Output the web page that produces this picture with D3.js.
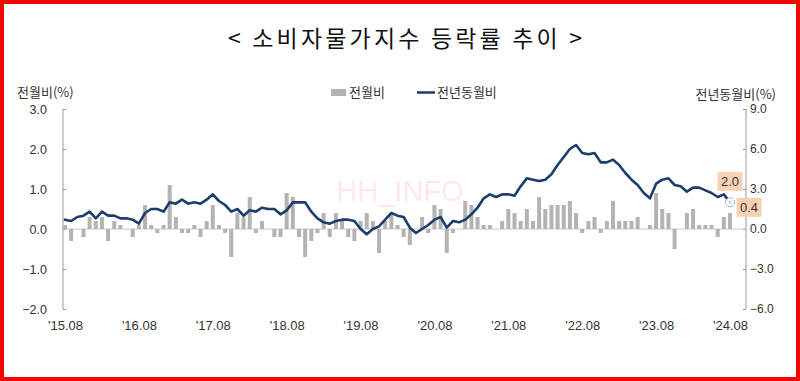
<!DOCTYPE html>
<html>
<head>
<meta charset="utf-8">
<script src="https://cdn.jsdelivr.net/npm/d3@7"></script>
<style>
  html, body { margin: 0; padding: 0; background: #fff; }
  svg { display: block; }
</style>
</head>
<body>
<svg id="chart" width="800" height="381"></svg>
<script>
// ---- data ----
const startYear = 2015, startMonth = 8, monthCount = 109;
const momValues = [
  0.1,-0.3,0.0,-0.2,0.3,
  0.2,0.3,-0.3,0.2,0.1,0.0,-0.2,0.1,0.6,0.1,-0.1,0.1,
  1.1,0.3,-0.1,-0.1,0.1,-0.2,0.2,0.6,0.1,-0.1,-0.7,0.4,
  0.3,0.8,-0.1,0.2,0.0,-0.2,-0.2,0.9,0.8,-0.2,-0.7,-0.3,
  -0.1,0.4,-0.2,0.4,0.2,-0.2,-0.3,0.2,0.4,0.2,-0.6,0.2,
  0.4,0.1,-0.2,-0.4,0.0,0.3,-0.1,0.6,0.5,-0.6,-0.1,0.0,
  0.7,0.6,0.3,0.1,0.1,0.0,0.2,0.5,0.4,0.2,0.5,0.2,
  0.8,0.5,0.6,0.6,0.6,0.7,0.4,-0.1,0.2,0.3,-0.1,0.2,
  0.7,0.2,0.2,0.2,0.3,0.0,0.1,0.9,0.5,0.4,-0.5,0.0,
  0.4,0.5,0.1,0.1,0.1,-0.2,0.3,0.4
];
const yoyValues = [
  0.7,0.6,0.9,1.0,1.3,
  0.8,1.3,1.0,1.0,0.8,0.8,0.7,0.4,1.2,1.5,1.5,1.3,
  2.0,1.9,2.2,1.9,2.0,1.9,2.2,2.6,2.1,1.8,1.3,1.5,
  1.0,1.4,1.3,1.6,1.5,1.5,1.1,1.4,2.0,2.0,2.0,1.3,
  0.8,0.5,0.4,0.6,0.7,0.7,0.6,0.0,-0.4,0.0,0.2,0.7,
  1.2,1.0,0.9,0.1,-0.3,0.0,0.3,0.7,0.9,0.1,0.6,0.5,
  0.7,1.1,1.6,2.3,2.6,2.4,2.6,2.6,2.5,3.2,3.8,3.7,
  3.6,3.7,4.1,4.8,5.4,6.0,6.3,5.7,5.6,5.7,5.0,5.0,
  5.2,4.8,4.2,3.7,3.3,2.7,2.3,3.4,3.7,3.8,3.3,3.2,
  2.8,3.1,3.1,2.9,2.7,2.4,2.6,2.0
];
const xTickLabels = ["'15.08","'16.08","'17.08","'18.08","'19.08","'20.08","'21.08","'22.08","'23.08","'24.08"];
const leftTicks = [3.0, 2.0, 1.0, 0.0, -1.0, -2.0];
const rightTicks = [9.0, 6.0, 3.0, 0.0, -3.0, -6.0];
const titleText = "< 소비자물가지수 등락률 추이 >";
const seriesNames = ["전월비", "전년동월비"];
const leftAxisTitle = "전월비(%)";
const rightAxisTitle = "전년동월비(%)";
const lastYoyLabel = "2.0";
const lastMomLabel = "0.4";

// categories (month keys)
const categories = [];
for (let i = 0; i < monthCount; i++) {
  const m = startMonth - 1 + i;
  const y = startYear + Math.floor(m / 12);
  const mm = (m % 12) + 1;
  categories.push(String(y).slice(2) + "." + String(mm).padStart(2, "0"));
}

// ---- layout ----
const svg = d3.select("#chart");
const KR = "'Noto Sans CJK KR', 'Noto Sans', sans-serif";
const NUM = "'Liberation Sans', Arial, sans-serif";
const axisLeftX = 63, axisRightX = 746, plotTop = 109, plotBottom = 309;

const x = d3.scalePoint().domain(categories).range([65, 730]);
const yL = d3.scaleLinear().domain([-2, 3]).range([plotBottom, plotTop]);
const yR = d3.scaleLinear().domain([-6, 9]).range([plotBottom, plotTop]);

// frame
svg.append("rect").attr("x", 2).attr("y", 2).attr("width", 796).attr("height", 377)
  .attr("fill", "#fff").attr("stroke", "#ff0000").attr("stroke-width", 4);

// title
svg.append("text").attr("x", 405).attr("y", 47).attr("text-anchor", "middle")
  .attr("font-family", KR).attr("font-size", 23).attr("fill", "#111")
  .attr("textLength", 354).attr("lengthAdjust", "spacing")
  .text(titleText);

// axis titles
svg.append("text").attr("x", 17).attr("y", 97).attr("font-family", KR)
  .attr("font-size", 13).attr("fill", "#333").text(leftAxisTitle);
svg.append("text").attr("x", 776).attr("y", 99).attr("text-anchor", "end").attr("font-family", KR)
  .attr("font-size", 13).attr("fill", "#333").text(rightAxisTitle);

// legend
svg.append("rect").attr("x", 331).attr("y", 89).attr("width", 15).attr("height", 7).attr("fill", "#b3b3b3");
svg.append("text").attr("x", 349).attr("y", 97).attr("font-family", KR).attr("font-size", 13)
  .attr("fill", "#333").text(seriesNames[0]);
svg.append("line").attr("x1", 417).attr("x2", 435).attr("y1", 92.5).attr("y2", 92.5)
  .attr("stroke", "#1c3d6e").attr("stroke-width", 2.5);
svg.append("text").attr("x", 437).attr("y", 97).attr("font-family", KR).attr("font-size", 13)
  .attr("fill", "#333").text(seriesNames[1]);

// watermark
svg.append("text").attr("x", 400).attr("y", 201).attr("text-anchor", "middle")
  .attr("font-family", NUM).attr("font-size", 29).attr("fill", "#ff0000").attr("fill-opacity", 0.1)
  .text("HH_INFO");

// left axis
const gL = svg.append("g").attr("transform", `translate(${axisLeftX},0)`)
  .call(d3.axisRight(yL).tickValues(leftTicks).tickSize(3).tickFormat(d3.format(".1f")));
gL.select(".domain").attr("stroke", "#999").attr("d", `M0,${plotTop}V${plotBottom}`);
gL.selectAll(".tick line").attr("stroke", "#999");
gL.selectAll(".tick text").attr("x", -16).attr("text-anchor", "end")
  .attr("font-family", NUM).attr("font-size", 12.5).attr("fill", "#333");

// right axis
const gR = svg.append("g").attr("transform", `translate(${axisRightX},0)`)
  .call(d3.axisLeft(yR).tickValues(rightTicks).tickSize(3).tickFormat(d3.format(".1f")));
gR.select(".domain").attr("stroke", "#999").attr("d", `M0,${plotTop}V${plotBottom}`);
gR.selectAll(".tick line").attr("stroke", "#999");
gR.selectAll(".tick text").attr("x", 4).attr("text-anchor", "start")
  .attr("font-family", NUM).attr("font-size", 12).attr("fill", "#333");

// x tick labels
const tickCats = categories.filter((c, i) => i % 12 === 0);
const gX = svg.append("g").attr("transform", `translate(0,${plotBottom})`)
  .call(d3.axisBottom(x).tickValues(tickCats).tickSize(0).tickFormat((d, i) => xTickLabels[i]));
gX.select(".domain").remove();
gX.selectAll(".tick text").attr("y", 12).attr("font-family", NUM).attr("font-size", 13)
  .attr("fill", "#333");

// zero line
svg.append("line").attr("x1", axisLeftX).attr("x2", axisRightX)
  .attr("y1", yL(0)).attr("y2", yL(0)).attr("stroke", "#c8c8c8").attr("stroke-width", 1);

// bars
const barW = 4;
svg.append("g").selectAll("rect").data(momValues).join("rect")
  .attr("x", (d, i) => x(categories[i]) - barW / 2)
  .attr("width", barW)
  .attr("y", d => Math.min(yL(d), yL(0)))
  .attr("height", d => Math.abs(yL(d) - yL(0)))
  .attr("fill", "#b3b3b3");

// line
const line = d3.line().x((d, i) => x(categories[i])).y(d => yR(d)).curve(d3.curveLinear);
svg.append("path").datum(yoyValues).attr("d", line)
  .attr("fill", "none").attr("stroke", "#1c3d6e").attr("stroke-width", 2.6)
  .attr("stroke-linejoin", "round").attr("stroke-linecap", "round");

// last point marker
const lastI = monthCount - 1;
const lx = x(categories[lastI]), ly = yR(yoyValues[lastI]);
svg.append("circle").attr("cx", lx).attr("cy", ly).attr("r", 4.5)
  .attr("fill", "#fff").attr("stroke", "#6f8fb8").attr("stroke-width", 1)
  .attr("stroke-dasharray", "1.5,1");
svg.append("circle").attr("cx", lx).attr("cy", ly).attr("r", 1.6).attr("fill", "#c9d6e6");

// annotation boxes
function labelBox(cx, cy, txt) {
  const w = 25, h = 19;
  svg.append("rect").attr("x", cx - w / 2).attr("y", cy - h / 2).attr("width", w).attr("height", h)
    .attr("fill", "#f9d2b3");
  svg.append("text").attr("x", cx).attr("y", cy + 4.5).attr("text-anchor", "middle")
    .attr("font-family", NUM).attr("font-size", 13).attr("fill", "#333").text(txt);
}
labelBox(lx, ly - 21, lastYoyLabel);
labelBox(lx + 19, ly + 5, lastMomLabel);
</script>
</body>
</html>
